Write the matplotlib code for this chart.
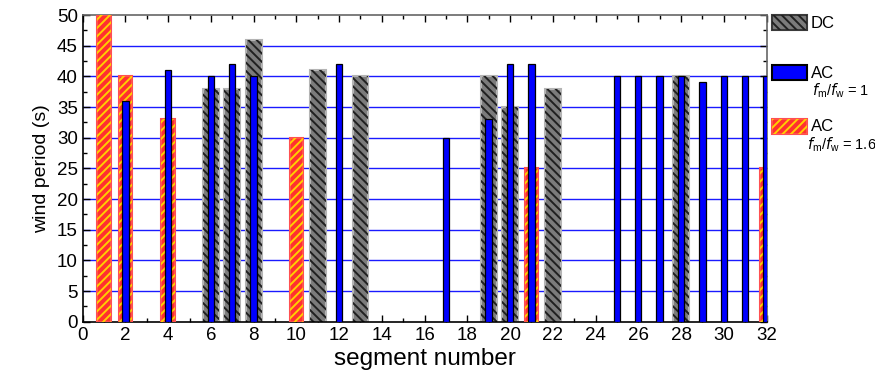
import matplotlib.pyplot as plt
import matplotlib.patches as mpatches
from matplotlib.ticker import MultipleLocator

plt.rcParams['font.family'] = ['Liberation Sans', 'DejaVu Sans']
plt.rcParams['hatch.linewidth'] = 1.4

# wind period per segment
dc_seg = [6, 7, 8, 11, 13, 19, 20, 22, 28]
dc_period = [38, 38, 46, 41, 40, 40, 35, 38, 40]

ac1_seg = [2, 4, 6, 7, 8, 12, 17, 19, 20, 21, 25, 26, 27, 28, 29, 30, 31, 32]
ac1_period = [36, 41, 40, 42, 40, 42, 30, 33, 42, 42, 40, 40, 40, 40, 39, 40, 40, 40]

ac16_seg = [1, 2, 4, 10, 21, 32]
ac16_period = [50, 40, 33, 30, 25, 25]

dc_face, dc_edge = '#7b7b7b', '#b4b4b4'
red_face, red_edge, red_hatch = '#ff3030', '#ff5050', '#ffd000'
blue_face = '#0000ff'
dc_hatch = '\\' * 4
red_hatch_pat = '/' * 4

fig = plt.figure(figsize=(8.75, 3.81), dpi=100)
ax = fig.add_axes([0.0945, 0.1556, 0.7815, 0.805])

# DC bars: gray with dark diagonal hatch
ax.bar(dc_seg, dc_period, width=0.74, color=dc_face, edgecolor=dc_edge, linewidth=1.5, zorder=2)
ax.bar(dc_seg, dc_period, width=0.74, color='none', edgecolor='#202020', linewidth=0, hatch=dc_hatch, zorder=2.1)

# AC fm/fw = 1.6: red with yellow hatch
ax.bar(ac16_seg, ac16_period, width=0.64, color=red_face, edgecolor=red_edge, linewidth=1.5, zorder=3)
ax.bar(ac16_seg, ac16_period, width=0.64, color='none', edgecolor=red_hatch, linewidth=0, hatch=red_hatch_pat, zorder=3.1)

# AC fm/fw = 1: narrow blue bars on top
ax.bar(ac1_seg, ac1_period, width=0.3, color=blue_face, edgecolor='black', linewidth=0.9, zorder=4)

ax.set_xlim(0, 32)
ax.set_ylim(0, 50)
ax.xaxis.set_major_locator(MultipleLocator(2))
ax.xaxis.set_minor_locator(MultipleLocator(1))
ax.yaxis.set_major_locator(MultipleLocator(5))
ax.yaxis.set_minor_locator(MultipleLocator(2.5))
ax.tick_params(which='both', direction='in', top=True, right=True, labelsize=13.5)
ax.tick_params(which='major', length=5, width=1)
ax.tick_params(which='minor', length=3, width=1)

for y in range(5, 50, 5):
    ax.axhline(y, color='#1a1aff', linewidth=1.0, zorder=1)

ax.spines['left'].set_linewidth(1.2)
ax.spines['bottom'].set_linewidth(1.2)
for side in ('top', 'right'):
    ax.spines[side].set_color('#666666')
    ax.spines[side].set_linewidth(1.2)

ax.set_xlabel('segment number', fontsize=17.5, labelpad=3)
ax.set_ylabel('wind period (s)', fontsize=14, labelpad=5)

# legend drawn by hand to the right of the axes
W, H = 875.0, 381.0


def legend_patch(x0, y0, face, edge, hatch=None, hatch_color=None):
    r = mpatches.Rectangle((x0 / W, 1 - (y0 + 15) / H), 35 / W, 15 / H,
                           transform=fig.transFigure, facecolor=face,
                           edgecolor=edge, linewidth=1.5)
    fig.patches.append(r)
    if hatch:
        h = mpatches.Rectangle((x0 / W, 1 - (y0 + 15) / H), 35 / W, 15 / H,
                               transform=fig.transFigure, facecolor='none',
                               edgecolor=hatch_color, linewidth=0, hatch=hatch)
        fig.patches.append(h)


legend_patch(772, 15, dc_face, '#3a3a3a', dc_hatch, '#202020')
legend_patch(772, 65, blue_face, 'black')
legend_patch(772, 119, red_face, red_edge, red_hatch_pat, red_hatch)

fig.text(811 / W, 1 - 23 / H, 'DC', fontsize=12, va='center')
fig.text(811 / W, 1 - 73 / H, 'AC', fontsize=12, va='center')
fig.text(812 / W, 1 - 91 / H, r'$f_\mathregular{m}$/$f_\mathregular{w}$ = 1', fontsize=10.5, va='center')
fig.text(811 / W, 1 - 127 / H, 'AC', fontsize=12, va='center')
fig.text(807 / W, 1 - 145 / H, r'$f_\mathregular{m}$/$f_\mathregular{w}$ = 1.6', fontsize=10.5, va='center')

fig.savefig('out.png', dpi=100)
